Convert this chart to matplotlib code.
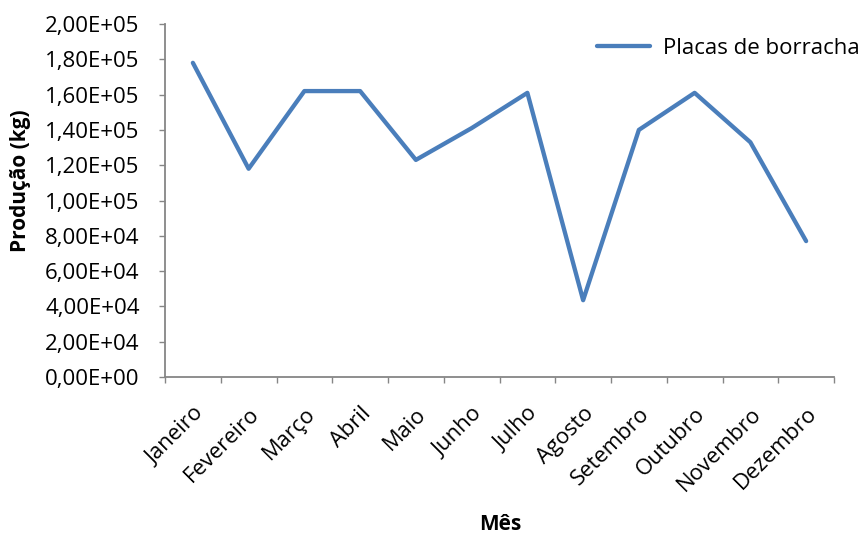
import numpy as np
import matplotlib
matplotlib.use("Agg")
import matplotlib.pyplot as plt
from matplotlib.ticker import FuncFormatter, FixedLocator

plt.rcParams['font.family'] = ['Open Sans', 'DejaVu Sans']

meses = ["Janeiro", "Fevereiro", "Março", "Abril", "Maio", "Junho",
         "Julho", "Agosto", "Setembro", "Outubro", "Novembro", "Dezembro"]
producao = [178000, 118000, 162000, 162000, 123000, 141000,
            161000, 43500, 140000, 161000, 133000, 77000]

W, H = 867, 538
fig = plt.figure(figsize=(W / 100, H / 100), dpi=100)
# axes box in pixels: x 165..834, y 24..377
ax = fig.add_axes([165 / W, 1 - 377 / H, (834 - 165) / W, (377 - 24) / H])

x = np.arange(len(meses))
ax.plot(x, producao, color="#4A7EBB", lw=3.1, solid_joinstyle="round",
        solid_capstyle="round", label="Placas de borracha")

ax.set_xlim(-0.5, len(meses) - 0.5)
ax.set_ylim(0, 200000)
ax.set_yticks(np.arange(0, 200001, 20000))


def sci_virgula(v, pos):
    return f"{v:.2E}".replace(".", ",")


cinza = "#868686"
ax.yaxis.set_major_formatter(FuncFormatter(sci_virgula))
ax.set_xticks(x)
ax.set_xticklabels(meses, rotation=45, ha="right", rotation_mode="anchor")
ax.xaxis.set_minor_locator(FixedLocator(np.arange(-0.5, len(meses), 1.0)))
ax.tick_params(axis="x", which="major", length=0, pad=19, labelsize=15.8)
ax.tick_params(axis="x", which="minor", length=4.3, width=1.0, color=cinza)
ax.tick_params(axis="y", length=4.3, width=1.0, color=cinza, labelsize=16, pad=14)

for side in ("top", "right"):
    ax.spines[side].set_visible(False)
for side in ("left", "bottom"):
    ax.spines[side].set_color(cinza)
    ax.spines[side].set_linewidth(1.3)

fig.text(21 / W, 1 - 181 / H, "Produção (kg)", rotation=90, fontsize=15,
         fontweight="bold", ha="center", va="center")
fig.text(500 / W, 1 - 525 / H, "Mês", fontsize=15, fontweight="bold",
         ha="center", va="center")

ax.legend(loc="center left", bbox_to_anchor=(597 / W, 1 - 48 / H),
          bbox_transform=fig.transFigure, frameon=False, borderpad=0,
          borderaxespad=0, fontsize=16, handlelength=2.4, handletextpad=0.55)

fig.savefig("out.png", dpi=100)
